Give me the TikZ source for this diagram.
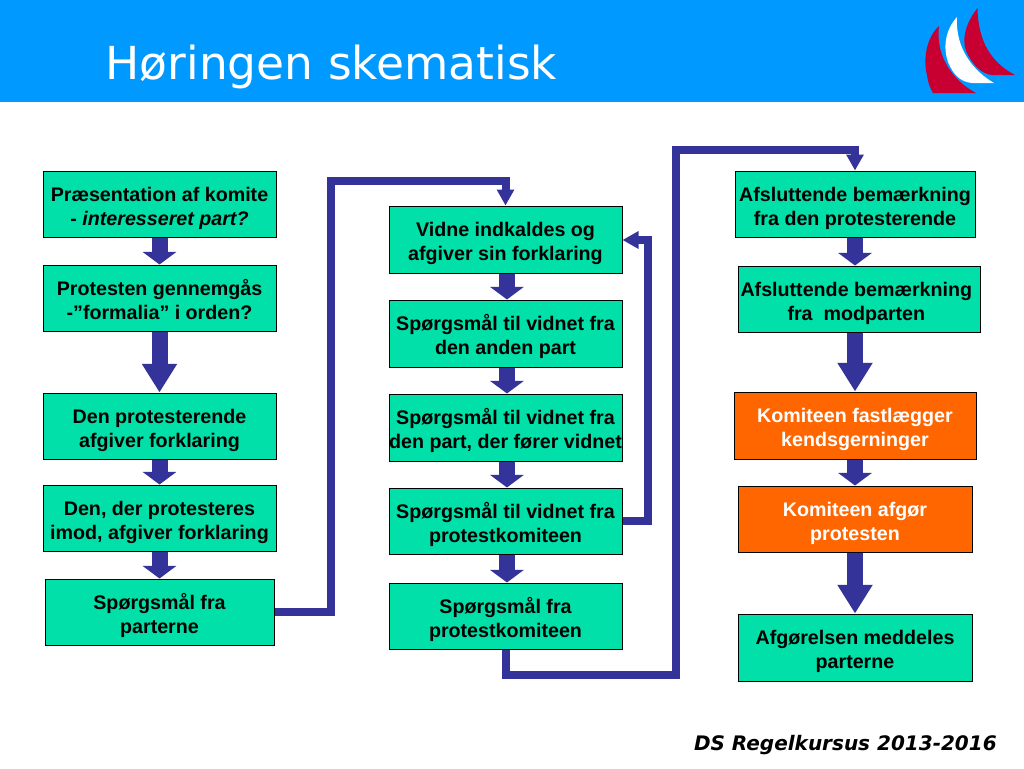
\documentclass[tikz,border=0pt]{standalone}
\usepackage{fontspec}
\setmainfont{Liberation Sans}
\newfontfamily\wide{DejaVu Sans}
\usetikzlibrary{arrows.meta}
\definecolor{hdr}{RGB}{0,153,255}
\definecolor{boxgreen}{RGB}{0,224,168}
\definecolor{boxorange}{RGB}{255,102,0}
\definecolor{arrowblue}{RGB}{51,51,153}
\definecolor{sailred}{RGB}{200,0,50}
\tikzset{
  x=0.75pt,y=-0.75pt,
  boxbase/.style={draw=black,line width=0.75pt,inner sep=0pt,align=center,
    font=\fontsize{14.75}{18}\selectfont\bfseries},
  greenbox/.style={boxbase,fill=boxgreen,text=black},
  orangebox/.style={boxbase,fill=boxorange,text=white},
  tallarrow/.style={draw=arrowblue,line width=12pt,-{Triangle[length=21.5pt,width=25pt,fill=arrowblue]}},
  shortarrow/.style={draw=arrowblue,line width=12pt,-{Triangle[length=9.5pt,width=25pt,fill=arrowblue]}},
  route/.style={draw=arrowblue,line width=6pt,miter limit=10,-{Triangle[length=12pt,width=12.5pt,fill=arrowblue]}},
}
\newcommand{\gbox}[7][greenbox]{\node[#1,minimum width=#4*0.75pt-#2*0.75pt,minimum height=#5*0.75pt-#3*0.75pt] (#6) at ({(#2+#4)/2},{(#3+#5)/2}) {\rule{0pt}{17.5pt}#7\rule[-4pt]{0pt}{4pt}};}
\begin{document}
\begin{tikzpicture}
\useasboundingbox (0,0) rectangle (1024,768);
\fill[white] (0,0) rectangle (1024,768);
\fill[hdr] (0,0) rectangle (1024,102);
\node[anchor=base west,inner sep=0pt,font=\wide\fontsize{34.1}{40}\selectfont,text=white] (title) at (105.5,79) {Høringen skematisk};
% logo
\fill[sailred] (977.5,8) .. controls (962,28) and (962,45) .. (968,55) .. controls (974,66) and (982,74) .. (992,75) -- (1015,75) .. controls (990,62) and (978,40) .. cycle;
\fill[white] (957,17) .. controls (945,30) and (943,48) .. (948,62) .. controls (953,74) and (960,82) .. (972,83) -- (994,83) .. controls (975,72) and (955,50) .. cycle;
\fill[sailred] (939,26) .. controls (926,38) and (923,60) .. (927,75) .. controls (928,83) and (930,88) .. (933,93) -- (976,93) .. controls (955,82) and (935,58) .. cycle;
% boxes
\gbox{43}{171}{276}{237}{a1}{Præsentation af komite\\- \textit{interesseret part?}}
\gbox{43}{265}{276}{331}{a2}{Protesten gennemgås\\-”formalia” i orden?}
\gbox{43}{393}{276}{459}{a3}{Den protesterende\\afgiver forklaring}
\gbox{43}{485}{276}{551}{a4}{Den, der protesteres\\imod, afgiver forklaring}
\gbox{45}{579}{274}{645}{a5}{Spørgsmål fra\\parterne}
\gbox{389}{206}{622}{273}{b1}{Vidne indkaldes og\\afgiver sin forklaring}
\gbox{389}{300}{622}{367}{b2}{Spørgsmål til vidnet fra\\den anden part}
\gbox{389}{394}{622}{461}{b3}{Spørgsmål til vidnet fra\\den part, der fører vidnet}
\gbox{389}{488}{622}{554}{b4}{Spørgsmål til vidnet fra\\protestkomiteen}
\gbox{389}{583}{622}{649}{b5}{Spørgsmål fra\\protestkomiteen}
\gbox{735}{171}{975}{237}{c1}{Afsluttende bemærkning\\fra den protesterende}
\gbox{738}{266}{980}{332}{c2}{Afsluttende bemærkning\hspace*{4pt}\\fra\ \ modparten\hspace*{4pt}}
\gbox[orangebox]{734}{392}{976}{459}{c3}{Komiteen fastlægger\\kendsgerninger}
\gbox[orangebox]{738}{486}{972}{552}{c4}{Komiteen afgør\\protesten}
\gbox{738}{614}{972}{681}{c5}{Afgørelsen meddeles\\parterne}
% block arrows
\draw[shortarrow] (a1.south) -- (a2.north);
\draw[tallarrow] (a2.south) -- (a3.north);
\draw[shortarrow] (a3.south) -- (a4.north);
\draw[shortarrow] (a4.south) -- (a5.north);
\draw[shortarrow] ([xshift=1.1pt]b1.south) -- ([xshift=1.1pt]b2.north);
\draw[shortarrow] ([xshift=1.1pt]b2.south) -- ([xshift=1.1pt]b3.north);
\draw[shortarrow] ([xshift=1.1pt]b3.south) -- ([xshift=1.1pt]b4.north);
\draw[shortarrow] ([xshift=1.1pt]b4.south) -- ([xshift=1.1pt]b5.north);
\draw[shortarrow] (c1.south) -- (c1.south |- c2.north);
\draw[tallarrow] (c1.south |- c2.south) -- (c3.north);
\draw[shortarrow] (c3.south) -- (c4.north);
\draw[tallarrow] (c4.south) -- (c5.north);
% routed connectors
\coordinate (r1) at (331,181);
\coordinate (r2) at (647.5,240);
\coordinate (r3) at (676,675);
\coordinate (r4) at (676,150);
\draw[route] (a5.east) -- (a5.east -| r1) -- (r1) -- (b1.north |- r1) -- (b1.north);
\draw[route] (b4.east) -- (b4.east -| r2) -- (r2) -- (b1.east |- r2);
\draw[route] ([xshift=0pt]b5.south) -- (b5.south |- r3) -- (r3) -- (r4) -- (c1.north |- r4) -- (c1.north);
% footer
\node[anchor=base east,inner sep=0pt,font=\wide\fontsize{15}{18}\selectfont\bfseries\itshape] (foot) at (997,750) {DS Regelkursus 2013-2016};
\end{tikzpicture}
\end{document}
